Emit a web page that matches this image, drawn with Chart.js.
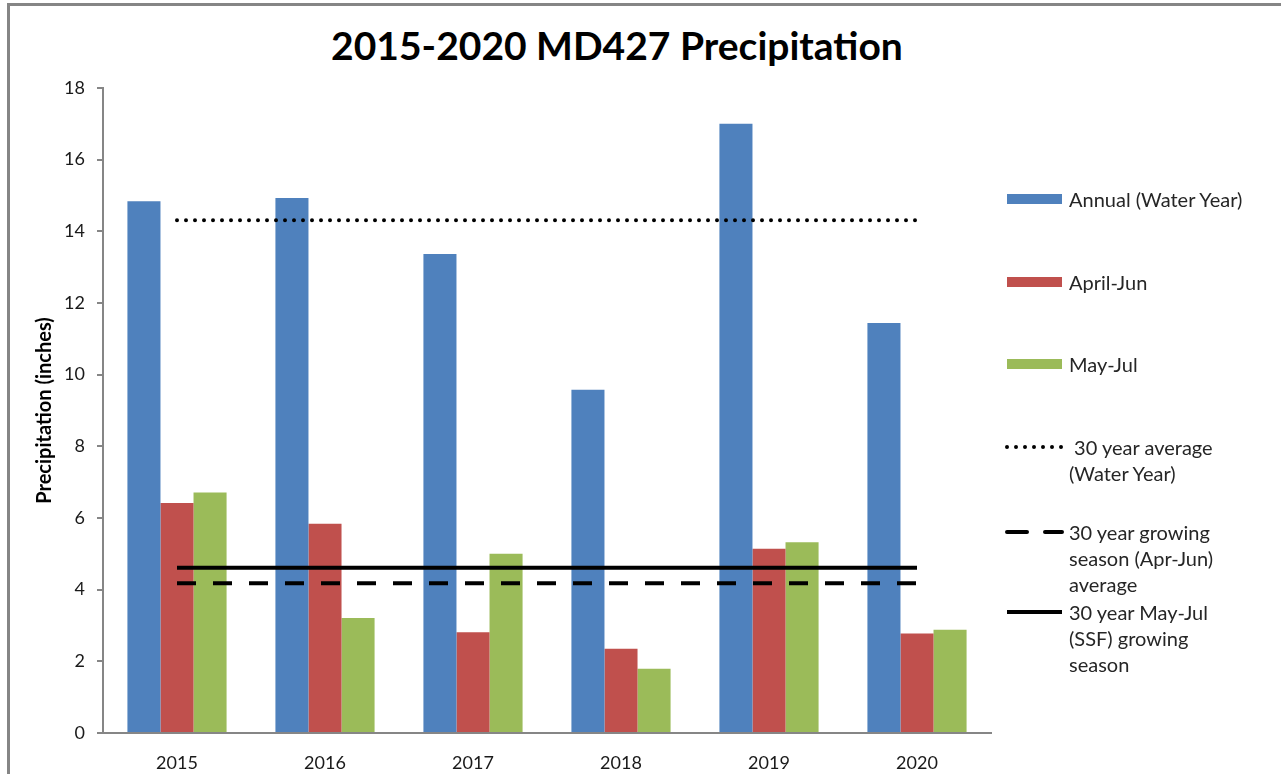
<!DOCTYPE html>
<html>
<head>
<meta charset="utf-8">
<script src="https://cdn.jsdelivr.net/npm/chart.js@4.4.1/dist/chart.umd.min.js"></script>
<style>
    html, body { margin: 0; padding: 0; background: #ffffff; }
    #wrap { position: relative; width: 1281px; height: 774px; overflow: hidden; font-family: Lato, "Liberation Sans", sans-serif; }
    #frame { position: absolute; left: 7px; top: 3px; width: 1290px; height: 800px; border-left: 3px solid #858585; border-top: 3px solid #858585; }
    #chartTitle { position: absolute; left: 0; width: 1234px; top: 22px; text-align: center; font-weight: 700; font-size: 39px; color: #000; }
    #precipChart { position: absolute; left: 0; top: 0; }
    #legend { position: absolute; left: 1005px; top: 0; color: #262626; font-size: 20px; }
    .item { position: absolute; left: 0; width: 280px; }
    .item svg { position: absolute; left: 0; }
    .item span { position: absolute; left: 64px; line-height: 26px; white-space: nowrap; }
</style>
</head>
<body>
<div id="wrap">
    <div id="frame"></div>
    <div id="chartTitle">2015-2020 MD427 Precipitation</div>
    <canvas id="precipChart" width="1281" height="774"></canvas>
    <div id="legend"></div>
</div>
<script>
    const years = ['2015', '2016', '2017', '2018', '2019', '2020'];
    const annual = [14.84, 14.93, 13.37, 9.58, 17.0, 11.44];
    const aprilJun = [6.42, 5.84, 2.81, 2.35, 5.14, 2.78];
    const mayJul = [6.71, 3.21, 5.0, 1.79, 5.32, 2.88];
    const avgWaterYear = 14.31;
    const avgAprJun = 4.18;
    const avgMayJul = 4.61;
    const yTicks = [0, 2, 4, 6, 8, 10, 12, 14, 16, 18];

    const axisGray = '#868686';
    const textColor = '#1a1a1a';

    function flatLine(value) {
        return years.map(function () { return value; });
    }

    function barSet(label, values, color) {
        return {
            type: 'bar',
            label: label,
            data: values,
            backgroundColor: color,
            borderWidth: 0,
            categoryPercentage: 0.67,
            barPercentage: 1.0,
            order: 2
        };
    }

    function lineSet(label, value, dash, cap) {
        return {
            type: 'line',
            label: label,
            data: flatLine(value),
            borderColor: '#000000',
            borderWidth: 4,
            borderDash: dash,
            borderCapStyle: cap,
            pointRadius: 0,
            fill: false,
            order: 1
        };
    }

    const chart = new Chart(document.getElementById('precipChart'), {
        data: {
            labels: years,
            datasets: [
                barSet('Annual (Water Year)', annual, '#4f81bd'),
                barSet('April-Jun', aprilJun, '#c0504d'),
                barSet('May-Jul', mayJul, '#9bbb59'),
                lineSet('30 year average (Water Year)', avgWaterYear, [0, 9], 'round'),
                lineSet('30 year growing season (Apr-Jun) average', avgAprJun, [19, 17], 'butt'),
                lineSet('30 year May-Jul (SSF) growing season', avgMayJul, [], 'butt')
            ]
        },
        options: {
            responsive: false,
            animation: false,
            layout: {
                padding: { left: 8, right: 290, top: 88, bottom: 0 }
            },
            plugins: {
                legend: { display: false },
                title: { display: false },
                tooltip: { enabled: false }
            },
            scales: {
                x: {
                    offset: true,
                    grid: { display: false },
                    border: { display: true, color: axisGray, width: 2 },
                    ticks: {
                        color: textColor,
                        padding: 11,
                        font: { family: 'Lato', size: 18 }
                    },
                    afterFit: function (scale) { scale.height = 41; }
                },
                y: {
                    min: 0,
                    max: 18,
                    afterBuildTicks: function (scale) {
                        scale.ticks = yTicks.map(function (v) { return { value: v }; });
                    },
                    grid: {
                        drawOnChartArea: false,
                        drawTicks: true,
                        tickLength: 6,
                        color: axisGray,
                        lineWidth: 2
                    },
                    border: { display: true, color: axisGray, width: 2 },
                    ticks: {
                        color: textColor,
                        padding: 12,
                        font: { family: 'Lato', size: 18 }
                    },
                    title: {
                        display: true,
                        text: 'Precipitation (inches)',
                        color: '#000000',
                        padding: { top: 25, bottom: 0 },
                        font: { family: 'Lato', size: 20, weight: 'bold' }
                    },
                    afterFit: function (scale) { scale.width = 95; }
                }
            }
        }
    });

    // legend built by hand, Excel style with wide gaps and wrapped labels
    const legendItems = [
        { top: 186, kind: 'bar', color: '#4f81bd', lines: ['Annual (Water Year)'] },
        { top: 269, kind: 'bar', color: '#c0504d', lines: ['April-Jun'] },
        { top: 351, kind: 'bar', color: '#9bbb59', lines: ['May-Jul'] },
        { top: 434, kind: 'dot', lines: ['\u00a030 year average', '(Water Year)'] },
        { top: 519, kind: 'dash', lines: ['30 year growing', 'season (Apr-Jun)', 'average'] },
        { top: 599, kind: 'solid', lines: ['30 year May-Jul', '(SSF) growing', 'season'] }
    ];

    function swatch(item) {
        if (item.kind === 'bar') {
            return '<svg width="58" height="26"><rect x="2" y="8" width="55" height="10" fill="' + item.color + '"/></svg>';
        }
        let dash = '';
        let cap = 'butt';
        if (item.kind === 'dot') { dash = 'stroke-dasharray="0 9"'; cap = 'round'; }
        if (item.kind === 'dash') { dash = 'stroke-dasharray="20 18"'; cap = 'round'; }
        return '<svg width="62" height="26"><line x1="2" y1="13" x2="57" y2="13" stroke="#000" stroke-width="4" stroke-linecap="' + cap + '" ' + dash + '/></svg>';
    }

    const legendHtml = legendItems.map(function (item) {
        return '<div class="item" style="top:' + item.top + 'px">' + swatch(item) +
            '<span>' + item.lines.join('<br>') + '</span></div>';
    }).join('');
    document.getElementById('legend').innerHTML = legendHtml;
</script>
</body>
</html>
